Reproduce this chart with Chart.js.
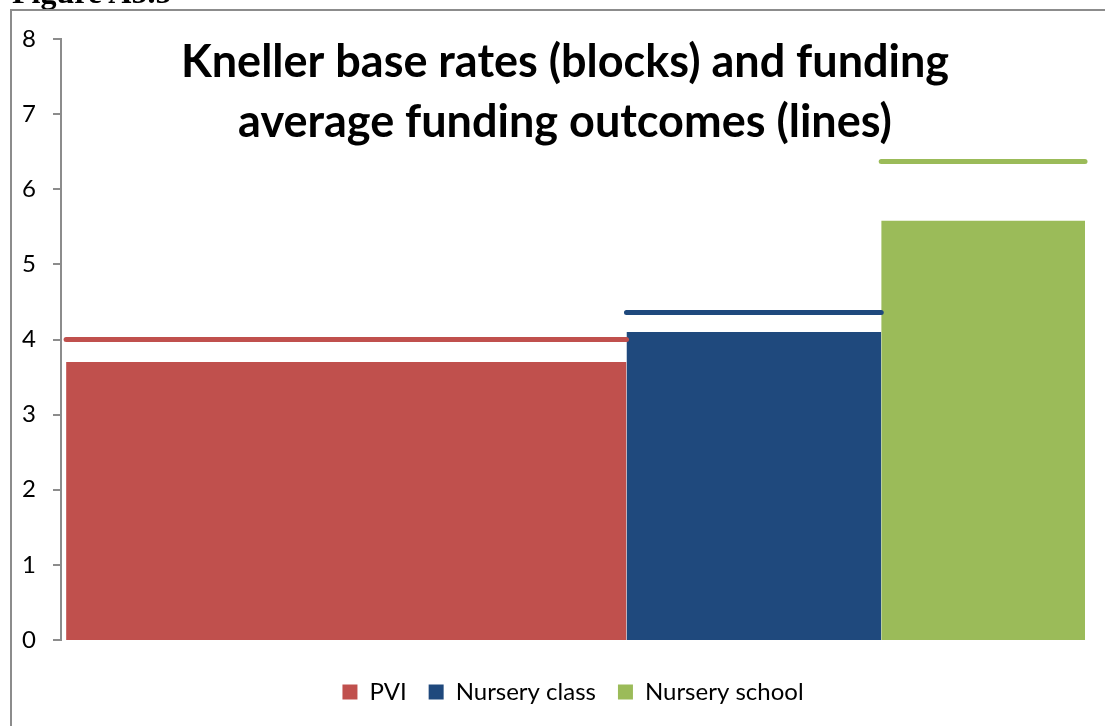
<!DOCTYPE html>
<html>
<head>
<meta charset="utf-8">
<script src="https://cdn.jsdelivr.net/npm/chart.js@4/dist/chart.umd.min.js"></script>
<style>
    html, body { margin: 0; padding: 0; background: #fff; overflow: hidden; }
    #wrap { position: relative; width: 1105px; height: 726px; }
    #frame { position: absolute; left: 10px; top: 9px; right: -4px; bottom: -4px;
             border-left: 2px solid #8c8c8c; border-top: 2px solid #8c8c8c; pointer-events: none; }
    #fig { position: absolute; left: 12px; top: -26px; font: bold 32px "Liberation Serif", serif; color: #000; }
</style>
</head>
<body>
<div id="wrap">
    <canvas id="chartKneller" width="1105" height="726"></canvas>
    <div id="fig">Figure A5.5</div>
    <div id="frame"></div>
</div>
<script>
// data
const categories = ['PVI', 'Nursery class', 'Nursery school'];
const shares = [55, 25, 20];                  // block widths (share of x axis)
const baseRates = [3.70, 4.10, 5.58];         // blocks
const fundingOutcomes = [4.00, 4.36, 6.37];   // lines
const yTicks = [0, 1, 2, 3, 4, 5, 6, 7, 8];
const titleLines = ['Kneller base rates (blocks) and funding', 'average funding outcomes (lines)'];

const colours = ['#C0504D', '#1F497D', '#9BBB59'];

// build datasets: each block is a filled step from its left edge to right edge
let start = 0;
const blockSets = [];
const lineSets = [];
categories.forEach(function (cat, i) {
    const x0 = start, x1 = start + shares[i];
    start = x1;
    blockSets.push({
        label: cat,
        data: [{ x: x0, y: baseRates[i] }, { x: x1, y: baseRates[i] }],
        backgroundColor: colours[i],
        borderColor: colours[i],
        borderWidth: 0,
        pointRadius: 0,
        fill: 'origin',
        order: 2
    });
    lineSets.push({
        label: cat + ' funding',
        data: [{ x: x0, y: fundingOutcomes[i] }, { x: x1, y: fundingOutcomes[i] }],
        borderColor: colours[i],
        backgroundColor: colours[i],
        borderWidth: 5,
        borderCapStyle: 'round',
        pointRadius: 0,
        fill: false,
        clip: false,
        order: 1
    });
});

// title drawn over the plot area, as in the original
const overlayTitle = {
    id: 'overlayTitle',
    afterDraw(chart) {
        const c = chart.ctx;
        c.save();
        c.font = 'bold 45px Lato, "Open Sans", sans-serif';
        c.fillStyle = '#000';
        c.textAlign = 'center';
        c.textBaseline = 'middle';
        titleLines.forEach(function (t, i) {
            c.fillText(t, 565, 62 + i * 60);
        });
        c.restore();
    }
};

const ctx = document.getElementById('chartKneller').getContext('2d');
new Chart(ctx, {
    type: 'line',
    data: { datasets: blockSets.concat(lineSets) },
    plugins: [overlayTitle],
    options: {
        responsive: false,
        animation: false,
        layout: { padding: { left: 0, right: 20, top: 39, bottom: 12 } },
        plugins: {
            title: { display: false },
            tooltip: { enabled: false },
            legend: {
                position: 'bottom',
                fullSize: false,
                labels: {
                    filter: item => item.datasetIndex < categories.length,
                    boxWidth: 15,
                    boxHeight: 15,
                    padding: 22,
                    color: '#000',
                    font: { family: 'Lato, "Open Sans", sans-serif', size: 24 }
                }
            }
        },
        scales: {
            x: {
                type: 'linear',
                min: -0.5,
                max: 100,
                ticks: { display: false },
                grid: { display: false },
                border: { display: false },
                afterFit: s => { s.height = 18; }
            },
            y: {
                min: 0,
                max: 8,
                afterBuildTicks: s => { s.ticks = yTicks.map(v => ({ value: v })); },
                afterFit: s => { s.width = 61; },
                ticks: {
                    color: '#000',
                    padding: 17,
                    font: { family: 'Lato, "Open Sans", sans-serif', size: 24 }
                },
                grid: { drawOnChartArea: false, color: '#8c8c8c', lineWidth: 2, tickLength: 8 },
                border: { color: '#8c8c8c', width: 2 }
            }
        }
    }
});
</script>
</body>
</html>
